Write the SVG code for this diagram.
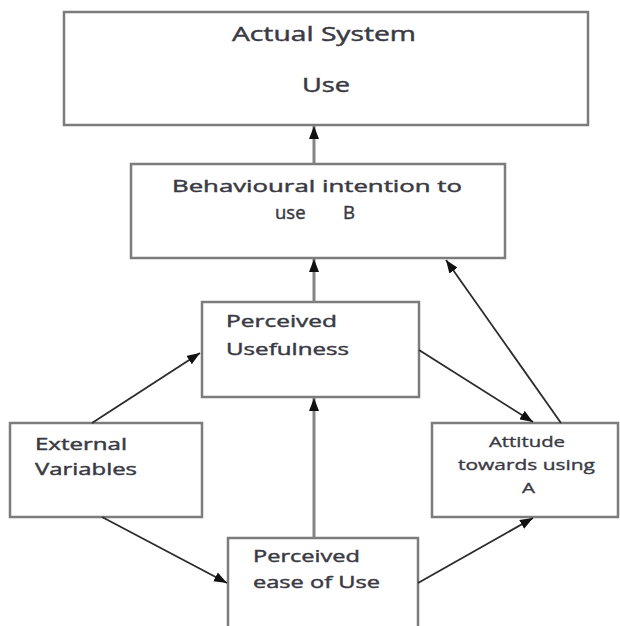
<svg xmlns="http://www.w3.org/2000/svg" width="620" height="626" viewBox="0 0 620 626">
<defs>
<style>
.box{fill:#ffffff;stroke:#7c7c7c;stroke-width:2.5}
.t{font-family:"Open Sans",Lato,"Liberation Sans",sans-serif;fill:#3a3a44;stroke:#3a3a44;stroke-width:0.45;font-size:17px}
.big{font-size:20px}
.md{font-size:18.5px}
.sm{font-size:15px;stroke-width:0.35}
.v{stroke:#858585;stroke-width:3;fill:none}
.d{stroke:#2b2b2b;stroke-width:1.8;fill:none}
</style>
<marker id="ah" markerUnits="userSpaceOnUse" markerWidth="13" markerHeight="10" refX="13" refY="5" orient="auto">
<path d="M0,0 L13,5 L0,10 z" fill="#111"/>
</marker>
</defs>
<rect width="620" height="626" fill="#ffffff"/>
<g id="actual-system-use">
<rect class="box" x="64" y="12" width="524" height="113"/>
<text class="t big" x="232" y="41" textLength="184" lengthAdjust="spacingAndGlyphs">Actual System</text>
<text class="t big" x="302" y="92" textLength="48" lengthAdjust="spacingAndGlyphs">Use</text>
</g>
<g id="behavioural-intention">
<rect class="box" x="131" y="164" width="374" height="94"/>
<text class="t" x="172" y="192" textLength="290" lengthAdjust="spacingAndGlyphs">Behavioural  intention  to</text>
<text class="t md" y="219"><tspan x="275">use</tspan><tspan x="343">B</tspan></text>
</g>
<g id="perceived-usefulness">
<rect class="box" x="202" y="302" width="217" height="95"/>
<text class="t" x="226" y="327" textLength="111" lengthAdjust="spacingAndGlyphs">Perceived</text>
<text class="t" x="226" y="355" textLength="123" lengthAdjust="spacingAndGlyphs">Usefulness</text>
</g>
<g id="external-variables">
<rect class="box" x="10" y="423" width="192" height="94"/>
<text class="t" x="35" y="450" textLength="92" lengthAdjust="spacingAndGlyphs">External</text>
<text class="t" x="35" y="475" textLength="102" lengthAdjust="spacingAndGlyphs">Variables</text>
</g>
<g id="attitude">
<rect class="box" x="432" y="423" width="186" height="94"/>
<text class="t sm" x="489" y="447" textLength="76" lengthAdjust="spacingAndGlyphs">Attitude</text>
<text class="t sm" x="458" y="470" textLength="137" lengthAdjust="spacingAndGlyphs">towards using</text>
<text class="t sm" x="522" y="493" textLength="13" lengthAdjust="spacingAndGlyphs">A</text>
</g>
<g id="perceived-ease-of-use">
<rect class="box" x="228" y="538" width="190" height="100"/>
<text class="t" x="253" y="562" textLength="107" lengthAdjust="spacingAndGlyphs">Perceived</text>
<text class="t" x="253" y="588" textLength="127" lengthAdjust="spacingAndGlyphs">ease of Use</text>
</g>
<g id="connectors">
<line class="v" x1="314" y1="164" x2="314" y2="126" marker-end="url(#ah)"/>
<line class="v" x1="314" y1="302" x2="314" y2="259" marker-end="url(#ah)"/>
<line class="v" x1="314" y1="538" x2="314" y2="398" marker-end="url(#ah)"/>
<line class="d" x1="92" y1="423" x2="200" y2="353" marker-end="url(#ah)"/>
<line class="d" x1="102" y1="517" x2="227" y2="583" marker-end="url(#ah)"/>
<line class="d" x1="419" y1="350" x2="533" y2="422" marker-end="url(#ah)"/>
<line class="d" x1="418" y1="583" x2="533" y2="518" marker-end="url(#ah)"/>
<line class="d" x1="561" y1="423" x2="446" y2="260" marker-end="url(#ah)"/>
</g>
</svg>
